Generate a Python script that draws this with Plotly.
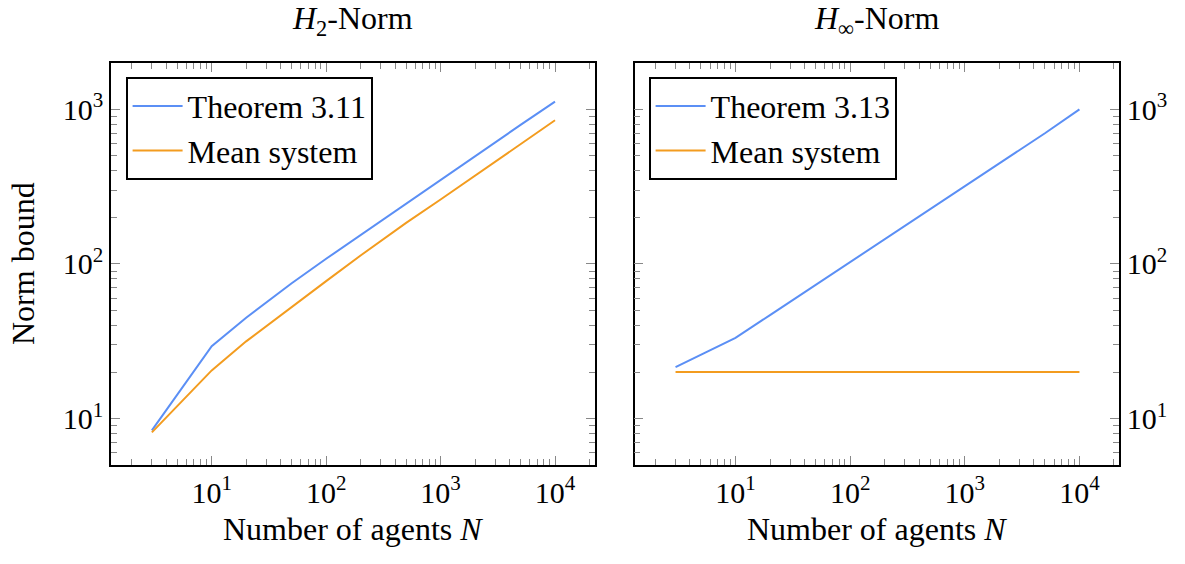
import plotly.graph_objects as go

# ---- data ----
N = [3, 10, 20, 50, 100, 200, 500, 1000, 2000, 5000, 10000]
h2_theorem = [8.4, 29.4, 44.9, 75, 108, 154, 246, 350, 498, 793, 1122]
h2_mean = [8.15, 20.5, 31.6, 53, 77.5, 113.5, 184.5, 261, 373, 597, 849]
hinf_theorem = [21.5, 33.3, 46.7, 73, 103, 144, 227, 318, 447, 700, 1000]
hinf_mean = [20.0, 20.0, 20.0, 20.0, 20.0, 20.0, 20.0, 20.0, 20.0, 20.0, 20.0]

x_major = [10, 100, 1000, 10000]
x_major_text = ["10<sup>1</sup>", "10<sup>2</sup>", "10<sup>3</sup>", "10<sup>4</sup>"]
y_major = [10, 100, 1000]
y_major_text = ["10<sup>1</sup>", "10<sup>2</sup>", "10<sup>3</sup>"]
x_minor = [m * 10 ** k for k in range(0, 5) for m in range(2, 10)]
y_minor = [m * 10 ** k for k in range(0, 4) for m in range(2, 10)]

BLUE = "#5b8ff5"
ORANGE = "#f39c1f"
FONT = "Liberation Serif"
W, H = 1185, 564

fig = go.Figure()
fig.add_trace(go.Scatter(x=N, y=h2_theorem, mode="lines", name="Theorem 3.11",
                         line=dict(color=BLUE, width=2), xaxis="x", yaxis="y", legend="legend"))
fig.add_trace(go.Scatter(x=N, y=h2_mean, mode="lines", name="Mean system",
                         line=dict(color=ORANGE, width=2), xaxis="x", yaxis="y", legend="legend"))
fig.add_trace(go.Scatter(x=N, y=hinf_theorem, mode="lines", name="Theorem 3.13",
                         line=dict(color=BLUE, width=2), xaxis="x2", yaxis="y2", legend="legend2"))
fig.add_trace(go.Scatter(x=N, y=hinf_mean, mode="lines", name="Mean system",
                         line=dict(color=ORANGE, width=2), xaxis="x2", yaxis="y2", legend="legend2"))

def px_x(p):
    return p / W

def px_y(p):
    return 1 - p / H

ydom = [px_y(465), px_y(63.3)]
xdom1 = [px_x(111), px_x(594.5)]
xdom2 = [px_x(634.6), px_x(1119)]

common = dict(type="log", showline=True, linecolor="black", linewidth=1.6, mirror="allticks",
              ticks="inside", ticklen=9, tickwidth=1.4, tickcolor="#888888", showgrid=False,
              zeroline=False, tickmode="array", automargin=False,
              tickfont=dict(family=FONT, size=30, color="black"),
              minor=dict(tickmode="array", ticks="inside", ticklen=6, tickwidth=1.4,
                         tickcolor="#888888", showgrid=False))

xa = dict(common, range=[0.12, 4.345], tickvals=x_major, ticktext=x_major_text)
xa["minor"] = dict(common["minor"], tickvals=x_minor)
ya = dict(common, range=[0.70, 3.2975], tickvals=y_major, ticktext=y_major_text)
ya["minor"] = dict(common["minor"], tickvals=y_minor)

leg_common = dict(xanchor="left", yanchor="top", bordercolor="black", borderwidth=1.6,
                  bgcolor="white", font=dict(family=FONT, size=32, color="black"),
                  tracegroupgap=0, itemwidth=50)

fig.update_layout(
    width=W, height=H, margin=dict(l=0, r=0, t=0, b=0),
    paper_bgcolor="white", plot_bgcolor="white",
    font=dict(family=FONT, size=30, color="black"),
    xaxis=dict(xa, domain=xdom1, anchor="y"),
    yaxis=dict(ya, domain=ydom, anchor="x"),
    xaxis2=dict(xa, domain=xdom2, anchor="y2"),
    yaxis2=dict(ya, domain=ydom, anchor="x2", side="right"),
    legend=dict(leg_common, x=px_x(126), y=px_y(77)),
    legend2=dict(leg_common, x=px_x(649), y=px_y(77)),
    showlegend=True,
)

ann_font = dict(family=FONT, size=32, color="black")
fig.add_annotation(text="<i>H</i><sub>2</sub>-Norm", xref="paper", yref="paper",
                   x=(xdom1[0] + xdom1[1]) / 2, y=px_y(20), xanchor="center", yanchor="middle",
                   showarrow=False, font=ann_font)
fig.add_annotation(text="<i>H</i><sub>∞</sub>-Norm", xref="paper", yref="paper",
                   x=(xdom2[0] + xdom2[1]) / 2, y=px_y(20), xanchor="center", yanchor="middle",
                   showarrow=False, font=ann_font)
fig.add_annotation(text="Number of agents <i>N</i>", xref="paper", yref="paper",
                   x=(xdom1[0] + xdom1[1]) / 2, y=px_y(529), xanchor="center", yanchor="middle",
                   showarrow=False, font=ann_font)
fig.add_annotation(text="Number of agents <i>N</i>", xref="paper", yref="paper",
                   x=(xdom2[0] + xdom2[1]) / 2, y=px_y(529), xanchor="center", yanchor="middle",
                   showarrow=False, font=ann_font)
fig.add_annotation(text="Norm bound", xref="paper", yref="paper", textangle=-90,
                   x=px_x(23), y=px_y(264), xanchor="center", yanchor="middle",
                   showarrow=False, font=ann_font)

fig.write_html("out.html")
